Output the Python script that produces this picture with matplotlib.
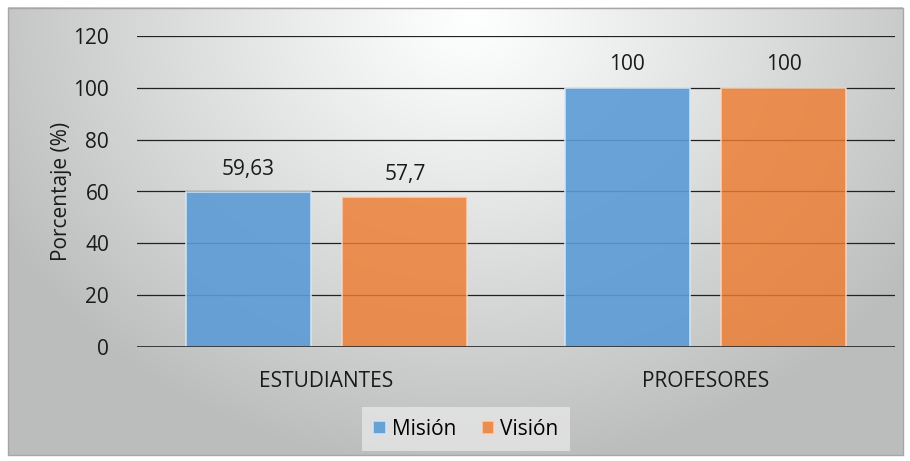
import numpy as np
import matplotlib
matplotlib.use("Agg")
import matplotlib.pyplot as plt
from matplotlib.patches import Rectangle

# ---------------------------------------------------------------------------
# Data
# ---------------------------------------------------------------------------
categories = ["ESTUDIANTES", "PROFESORES"]
series_names = ["Misión", "Visión"]
mision = [59.63, 100]
vision = [57.7, 100]
value_labels = [["59,63", "100"], ["57,7", "100"]]
yticks = [0, 20, 40, 60, 80, 100, 120]

BLUE = "#5b9bd5"
ORANGE = "#ed7d31"
TXT = "#1a1a1a"
FS = 15

plt.rcParams["font.family"] = ["Open Sans", "DejaVu Sans"]

W, H = 910, 461
fig = plt.figure(figsize=(W / 100, H / 100), dpi=100)
fig.patch.set_facecolor("white")

# ── Background: radial gradient inside a grey frame ─────────────────────
bg = fig.add_axes([0, 0, 1, 1], zorder=-10)
bg.set_xlim(0, W)
bg.set_ylim(H, 0)
bg.axis("off")
yy, xx = np.mgrid[0:H, 0:W]
d = np.sqrt(((xx - 470) / 560) ** 2 + ((yy - 10) / 480) ** 2)
shade = np.clip(1.0 - 0.27 * d ** 1.1, 0.74, 1.0)
img = np.dstack([shade * 0.995, shade, shade])
bg.imshow(img, extent=(8, 903, 455, 8), aspect="auto", interpolation="bilinear")
bg.add_patch(Rectangle((8, 8), 895, 447, fill=False, edgecolor="#a6a6a6", lw=1))

# ── Plot area ────────────────────────────────────────────────────────────
ax = fig.add_axes([137 / W, 1 - 347 / H, (895 - 137) / W, (347 - 36) / H])
ax.patch.set_alpha(0)

x = np.arange(len(categories))
width = 0.33
offset = 0.207

for yv in yticks[1:]:
    ax.axhline(yv, color="#222222", lw=0.9, zorder=1)
ax.axhline(0, color="#111111", lw=1.8, zorder=4)

b1 = ax.bar(x - offset, mision, width, color=BLUE, alpha=0.9,
            edgecolor="#d6e6f4", linewidth=1.2, zorder=2, label=series_names[0])
b2 = ax.bar(x + offset, vision, width, color=ORANGE, alpha=0.82,
            edgecolor="#fbd9c4", linewidth=1.2, zorder=2, label=series_names[1])

for bars, labels in zip([b1, b2], value_labels):
    for bar, lab in zip(bars, labels):
        ax.text(bar.get_x() + bar.get_width() / 2, bar.get_height() + 9, lab,
                ha="center", va="center", fontsize=FS, color=TXT)

ax.set_xlim(-0.5, len(categories) - 0.5)
ax.set_ylim(0, 120)
ax.set_yticks(yticks)
ax.set_xticks(x)
ax.set_xticklabels(categories)
ax.tick_params(axis="both", length=0, labelsize=FS, colors=TXT)
ax.tick_params(axis="y", pad=20)
ax.tick_params(axis="x", pad=17)
for s in ax.spines.values():
    s.set_visible(False)

ax.set_ylabel("Porcentaje (%)", fontsize=FS, color=TXT, labelpad=1)

leg = fig.legend(handles=[b1, b2], loc="center", bbox_to_anchor=(466 / W, 1 - 429 / H),
                 ncol=2, frameon=True,
                 fontsize=FS, handlelength=0.6, handleheight=0.6,
                 handletextpad=0.3, columnspacing=1.2, borderpad=0.55)
leg.get_frame().set_facecolor("#e6e6e6")
leg.get_frame().set_edgecolor("none")
leg.get_frame().set_alpha(0.8)
leg.get_frame().set_boxstyle("square", pad=0.0)

fig.savefig("out.png", dpi=100)
